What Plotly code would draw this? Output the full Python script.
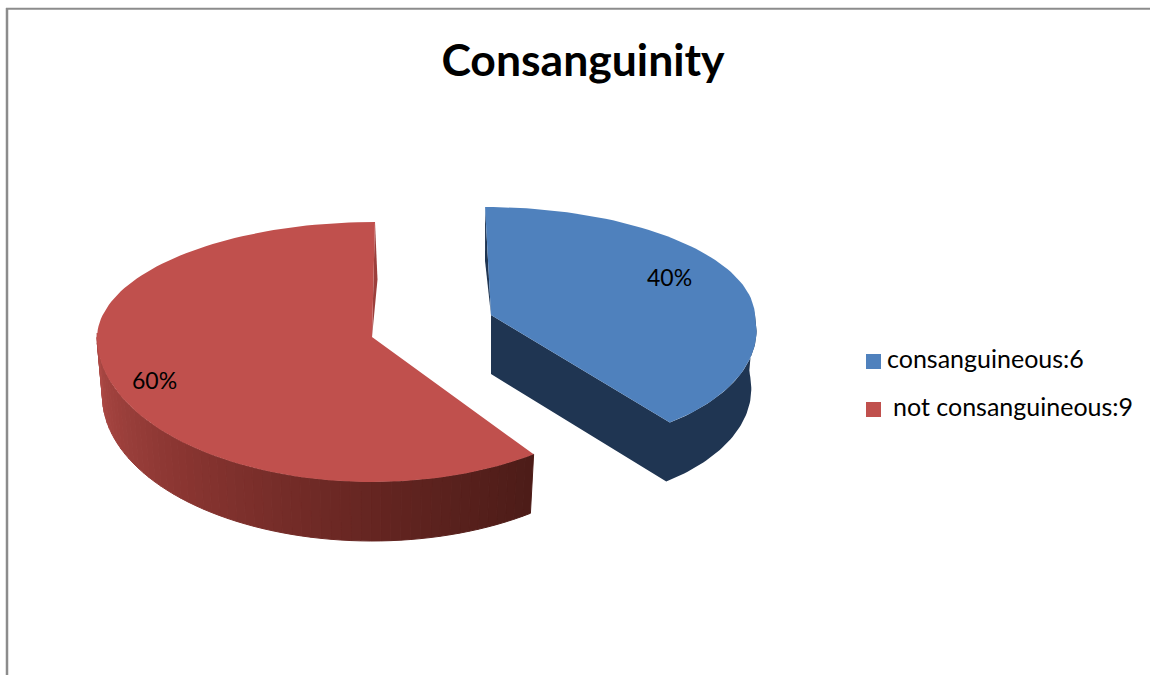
import math
import plotly.graph_objects as go

# Data
TITLE = "Consanguinity"
CATEGORIES = ["consanguineous", "not consanguineous"]
VALUES = [6, 9]
COLORS = ["#4F81BD", "#C0504D"]
BLUE_SIDE = "#1F3552"

W, H = 1150, 675
total = sum(VALUES)
sweep = [v / total * 360 for v in VALUES]

DEPTH = 59
SHRINK = 0.98


def mapper(cx, cy, rx, ry_back, ry_front, s_back, s_front):
    def pt(deg, frac=1.0, down=0.0):
        t = math.radians(deg)
        c = math.cos(t)
        dy = -ry_back * c if c > 0 else -ry_front * c
        dy *= frac
        sh = s_back if dy < 0 else s_front
        x = rx * math.sin(t) * frac + sh * dy
        k = SHRINK if down else 1.0
        return cx + x * k, cy + dy + down
    return pt


blue = mapper(491, 315, 264, 108, 133, 0.055, 0.22)
red = mapper(372, 337, 275, 115, 145, -0.026, 0.0)

fig = go.Figure()


def poly(points, color, line=0):
    fig.add_trace(go.Scatter(
        x=[p[0] for p in points] + [points[0][0]],
        y=[p[1] for p in points] + [points[0][1]],
        mode="lines", fill="toself", fillcolor=color,
        line=dict(color=color, width=line),
        hoverinfo="skip", showlegend=False,
    ))


def arc(pt, a, b, n=80, down=0.0):
    return [pt(a + (b - a) * i / n, 1.0, down) for i in range(n + 1)]


# ---- blue slice (0 .. sweep[0]) ----
a_end = sweep[0]
apex = blue(0, 0)
apex_down = blue(0, 0, DEPTH)
side = [apex, apex_down, blue(a_end, 1, DEPTH)] + arc(blue, a_end, 88, 50, DEPTH) + arc(blue, 88, a_end, 50)
poly(side, BLUE_SIDE)
# thin back face
bt = blue(0)
poly([bt, ((bt[0] + apex[0]) / 2 - 3, (bt[1] + apex[1]) / 2), apex], BLUE_SIDE)
poly([apex] + arc(blue, 0, a_end), COLORS[0])

# ---- red slice (sweep[0] .. 360) ----
start = sweep[0]
n_strips = 60
stops = [(0.0, (76, 28, 24)), (0.25, (98, 36, 32)), (0.6, (135, 52, 48)), (1.0, (175, 74, 70))]


def grad(f):
    for (f0, c0), (f1, c1) in zip(stops, stops[1:]):
        if f <= f1:
            u = (f - f0) / (f1 - f0)
            return "rgb(%d,%d,%d)" % tuple(round(c0[i] + (c1[i] - c0[i]) * u) for i in range(3))
    return "rgb(175,74,70)"


side_end = 272
for i in range(n_strips):
    a0 = start + (side_end - start) * i / n_strips
    a1 = start + (side_end - start) * (i + 1) / n_strips
    poly([red(a0), red(a1), red(a1, 1, DEPTH), red(a0, 1, DEPTH)], grad((i + 0.5) / n_strips), 1)
# thin back face
rt = red(360)
ra = red(0, 0)
poly([rt, ((rt[0] + ra[0]) / 2 + 4, (rt[1] + ra[1]) / 2), ra], "#9C3F3C")
poly([ra] + arc(red, start, 360, 120), COLORS[1])

# ---- key: square swatch + label ----
KEY_X = 873.5
KEY_Y = [361.5, 409.5]
KEY_TEXT_X = [887, 893]
for name, val, col, ky, tx in zip(CATEGORIES, VALUES, COLORS, KEY_Y, KEY_TEXT_X):
    fig.add_trace(go.Scatter(
        x=[KEY_X], y=[ky], mode="markers", name=f"{name}:{val}",
        marker=dict(symbol="square", size=15, color=col),
        hoverinfo="name", showlegend=False,
    ))
    fig.add_trace(go.Scatter(
        x=[tx], y=[ky], mode="text", text=[f"{name}:{val}"], textposition="middle right",
        textfont=dict(family="Lato", size=25, color="#000"),
        hoverinfo="skip", showlegend=False,
    ))

# ---- percent labels ----
LABEL_POS = [(669, 277), (154, 380)]
annots = [dict(x=p[0], y=p[1], xref="x", yref="y", showarrow=False,
               text=f"{round(v / total * 100)}%", font=dict(family="Lato", size=23, color="#000"))
          for v, p in zip(VALUES, LABEL_POS)]

fig.update_layout(
    width=W, height=H, autosize=False,
    margin=dict(l=0, r=0, t=0, b=0),
    paper_bgcolor="white", plot_bgcolor="white",
    title=dict(text=f"<b>{TITLE}</b>", x=583 / W, y=1 - 60 / H, xanchor="center", yanchor="middle",
               font=dict(family="Lato", size=44.5, color="#000")),
    xaxis=dict(range=[0, W], visible=False, fixedrange=True),
    yaxis=dict(range=[H, 0], visible=False, fixedrange=True),
    showlegend=False,
    annotations=annots,
    shapes=[
        dict(type="line", xref="paper", yref="paper", x0=7 / W, x1=7 / W, y0=0, y1=1 - 8 / H,
             line=dict(color="#8c8c8c", width=2.5)),
        dict(type="line", xref="paper", yref="paper", x0=6 / W, x1=1, y0=1 - 8.7 / H, y1=1 - 8.7 / H,
             line=dict(color="#8c8c8c", width=2)),
    ],
)

fig.write_html("out.html", config={"displayModeBar": False},
               post_script="document.body.style.margin='0';")
